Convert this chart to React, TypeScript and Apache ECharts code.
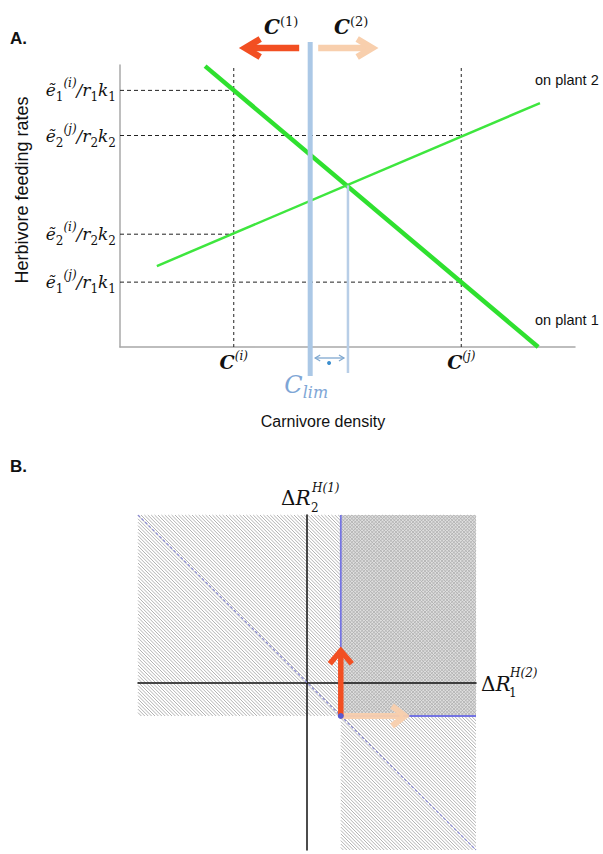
import React, { useEffect, useRef } from "react";
import * as echarts from "echarts";

// ---------- Panel A data (axis units) ----------
const xMinA = 0;
const xMaxA = 100;
const yMinA = 0;
const yMaxA = 100;
const plant1 = [[18.7, 99.6], [91.9, 0]];
const plant2 = [[8.1, 28.7], [92.3, 86.5]];
const cStarValues = [25, 75];
const cStarNames = ["i", "j"];
const rateLevels = [91, 75, 40, 23];
const rateLevelAt = [25, 75, 25, 75];
const rateSub = ["1", "2", "2", "1"];
const rateSup = ["i", "j", "i", "j"];
const cLim = 41.8;
const cCross = [50.1, 57.3];

// ---------- Panel B data (axis units) ----------
const xMinB = -5;
const xMaxB = 5;
const yMinB = -5;
const yMaxB = 5;
const threshold = [1, -1];
const regionX0 = [-5, 1, 1];
const regionX1 = [1, 5, 5];
const regionY0 = [-1, -1, -5];
const regionY1 = [5, 5, -1];
const regionCross = [0, 1, 0];
const boundary = [[1, 5], [1, -1], [5, -1]];
const diagonal = [[-5, 5], [5, -5]];
const redTip = [1, 0.95];
const peachTip = [2.9, -1];

const SERIF = "'DejaVu Serif', serif";
const SANS = "'Liberation Sans', Arial, sans-serif";
const RED = "#f24f22";
const PEACH = "#f8cfad";

function hatchPath(x0: number, y0: number, x1: number, y1: number, s: number, dir: number) {
  let d = "";
  if (dir === 1) {
    for (let k = Math.ceil((y0 - x1) / s) * s; k <= y1 - x0; k += s) {
      const xa = Math.max(x0, y0 - k);
      const xb = Math.min(x1, y1 - k);
      if (xb > xa) d += `M${xa.toFixed(2)} ${(xa + k).toFixed(2)}L${xb.toFixed(2)} ${(xb + k).toFixed(2)}`;
    }
  } else {
    for (let k = Math.ceil((y0 + x0) / s) * s; k <= y1 + x1; k += s) {
      const xa = Math.max(x0, k - y1);
      const xb = Math.min(x1, k - y0);
      if (xb > xa) d += `M${xa.toFixed(2)} ${(k - xa).toFixed(2)}L${xb.toFixed(2)} ${(k - xb).toFixed(2)}`;
    }
  }
  return d;
}

function arrowEls(from: number[], to: number[], color: string, width: number, headLen: number, headHalf: number, opacity = 1) {
  const dx = to[0] - from[0];
  const dy = to[1] - from[1];
  const len = Math.sqrt(dx * dx + dy * dy);
  const ux = dx / len;
  const uy = dy / len;
  const px = -uy;
  const py = ux;
  const bx = to[0] - ux * headLen;
  const by = to[1] - uy * headLen;
  return [
    {
      type: "line",
      shape: { x1: from[0], y1: from[1], x2: to[0] - ux * 2, y2: to[1] - uy * 2 },
      style: { stroke: color, lineWidth: width, opacity },
    },
    {
      type: "polyline",
      shape: { points: [[bx + px * headHalf, by + py * headHalf], [to[0], to[1]], [bx - px * headHalf, by - py * headHalf]] },
      style: { stroke: color, lineWidth: width, fill: "none", lineJoin: "miter", opacity },
    },
  ];
}

const yLabelRich = {
  e: { fontFamily: SERIF, fontStyle: "italic", fontSize: 17, lineHeight: 26, color: "#111" },
  sb: { fontFamily: SERIF, fontSize: 12, lineHeight: 16, verticalAlign: "bottom", color: "#111" },
  sp: { fontFamily: SERIF, fontStyle: "italic", fontSize: 12, lineHeight: 16, verticalAlign: "top", color: "#111" },
};

const xLabelRich = {
  c: { fontFamily: SERIF, fontStyle: "italic", fontWeight: "bold", fontSize: 19, lineHeight: 24, color: "#111" },
  sp: { fontFamily: SERIF, fontStyle: "italic", fontSize: 12, lineHeight: 15, verticalAlign: "top", color: "#111" },
};

function buildOption() {
  return {
    animation: false,
    backgroundColor: "#fff",
    grid: [
      { left: 120, top: 65, width: 455, height: 282 },
      { left: 138, top: 515, width: 338, height: 335 },
    ],
    xAxis: [
      {
        gridIndex: 0, type: "value", min: xMinA, max: xMaxA,
        axisLine: { lineStyle: { color: "#a8a8a8", width: 1.5 } },
        axisTick: { show: false }, splitLine: { show: false },
        axisLabel: {
          customValues: cStarValues, margin: 3,
          formatter: (v: number) => `{c|C}{sp|(${cStarNames[cStarValues.indexOf(v)]})}`,
          rich: xLabelRich,
        },
      },
      {
        gridIndex: 1, type: "value", min: xMinB, max: xMaxB, z: 3,
        axisLine: { onZero: true, lineStyle: { color: "#111", width: 1.5 } },
        axisTick: { show: false }, splitLine: { show: false }, axisLabel: { show: false },
      },
    ],
    yAxis: [
      {
        gridIndex: 0, type: "value", min: yMinA, max: yMaxA,
        axisLine: { lineStyle: { color: "#a8a8a8", width: 1.5 } },
        axisTick: { show: false }, splitLine: { show: false },
        axisLabel: {
          customValues: rateLevels, margin: 4,
          formatter: (v: number) => {
            const i = rateLevels.indexOf(v);
            const s = rateSub[i];
            return `{e|ẽ}{sb|${s}}{sp|(${rateSup[i]})}{e|/r}{sb|${s}}{e|k}{sb|${s}}`;
          },
          rich: yLabelRich,
        },
      },
      {
        gridIndex: 1, type: "value", min: yMinB, max: yMaxB, z: 3,
        axisLine: { onZero: true, lineStyle: { color: "#111", width: 1.5 } },
        axisTick: { show: false }, splitLine: { show: false }, axisLabel: { show: false },
      },
    ],
    series: [
      // Panel A: horizontal dashed guides
      {
        type: "custom", xAxisIndex: 0, yAxisIndex: 0, z: 1, silent: true,
        data: rateLevels.map((y, i) => [rateLevelAt[i], y]),
        renderItem: (_p: any, api: any) => {
          const end = api.coord([api.value(0), api.value(1)]);
          const start = api.coord([xMinA, api.value(1)]);
          return {
            type: "line",
            shape: { x1: start[0], y1: start[1], x2: end[0], y2: end[1] },
            style: { stroke: "#222", lineWidth: 1, lineDash: [4, 3] },
          };
        },
      },
      // Panel A: vertical dashed guides
      {
        type: "custom", xAxisIndex: 0, yAxisIndex: 0, z: 1, silent: true,
        data: cStarValues.map((x) => [x, yMinA]),
        renderItem: (_p: any, api: any) => {
          const a = api.coord([api.value(0), yMinA]);
          const b = api.coord([api.value(0), yMaxA]);
          return {
            type: "line",
            shape: { x1: a[0], y1: a[1], x2: b[0], y2: b[1] },
            style: { stroke: "#222", lineWidth: 1, lineDash: [3, 3] },
          };
        },
      },
      {
        name: "on plant 1", type: "line", xAxisIndex: 0, yAxisIndex: 0, z: 3,
        data: plant1, showSymbol: false, silent: true,
        lineStyle: { color: "#2fe02f", width: 4.5 },
      },
      {
        name: "on plant 2", type: "line", xAxisIndex: 0, yAxisIndex: 0, z: 3,
        data: plant2, showSymbol: false, silent: true,
        lineStyle: { color: "#3ee63e", width: 2.5 },
      },
      // Panel A: C_lim marks and direction arrows
      {
        type: "custom", xAxisIndex: 0, yAxisIndex: 0, z: 4, silent: true, clip: false,
        data: [[cLim, cCross[0], cCross[1]]],
        renderItem: (_p: any, api: any) => {
          const top = api.coord([api.value(0), yMaxA]);
          const bot = api.coord([api.value(0), yMinA]);
          const cr = api.coord([api.value(1), api.value(2)]);
          const xL = top[0];
          const yT = top[1];
          const yB = bot[1];
          const xC = cr[0];
          const ya = yB + 11;
          const children: any[] = [
            { type: "line", shape: { x1: xL, y1: yT - 23, x2: xL, y2: yB + 29 }, style: { stroke: "#abc8e6", lineWidth: 5 } },
            { type: "line", shape: { x1: xC, y1: cr[1], x2: xC, y2: yB + 26 }, style: { stroke: "#b8cee7", lineWidth: 2.5 } },
            { type: "line", shape: { x1: xL + 5, y1: ya, x2: xC - 4, y2: ya }, style: { stroke: "#7fa8d0", lineWidth: 1.3 } },
            { type: "polyline", shape: { points: [[xL + 10, ya - 3], [xL + 5, ya], [xL + 10, ya + 3]] }, style: { stroke: "#7fa8d0", lineWidth: 1.3, fill: "none" } },
            { type: "polyline", shape: { points: [[xC - 9, ya - 3], [xC - 4, ya], [xC - 9, ya + 3]] }, style: { stroke: "#7fa8d0", lineWidth: 1.3, fill: "none" } },
            { type: "circle", shape: { cx: (xL + xC) / 2, cy: ya + 5, r: 2 }, style: { fill: "#3c8fcf" } },
            {
              type: "text", x: xL - 4, y: yB + 38,
              style: {
                text: "{c|C}{s|lim}", align: "center", verticalAlign: "middle",
                rich: {
                  c: { fontFamily: SERIF, fontStyle: "italic", fontSize: 24, lineHeight: 30, fill: "#7ea6d6" },
                  s: { fontFamily: SERIF, fontStyle: "italic", fontSize: 16, lineHeight: 20, verticalAlign: "bottom", fill: "#7ea6d6" },
                },
              },
            },
            {
              type: "text", x: xL - 29, y: yT - 38,
              style: {
                text: "{c|C}{sp|(1)}", align: "center", verticalAlign: "middle",
                rich: {
                  c: { fontFamily: SERIF, fontStyle: "italic", fontWeight: "bold", fontSize: 20, lineHeight: 24, fill: "#111" },
                  sp: { fontFamily: SERIF, fontSize: 13, lineHeight: 15, verticalAlign: "top", fill: "#111" },
                },
              },
            },
            {
              type: "text", x: xL + 41, y: yT - 38,
              style: {
                text: "{c|C}{sp|(2)}", align: "center", verticalAlign: "middle",
                rich: {
                  c: { fontFamily: SERIF, fontStyle: "italic", fontWeight: "bold", fontSize: 20, lineHeight: 24, fill: "#111" },
                  sp: { fontFamily: SERIF, fontSize: 13, lineHeight: 15, verticalAlign: "top", fill: "#111" },
                },
              },
            },
            ...arrowEls([xL - 11, yT - 17], [xL - 65, yT - 17], RED, 6.5, 15, 9),
            ...arrowEls([xL + 8, yT - 17], [xL + 62, yT - 17], PEACH, 6.5, 15, 9),
          ];
          return { type: "group", children };
        },
      },
      // Panel B: hatched regions
      {
        type: "custom", xAxisIndex: 1, yAxisIndex: 1, z: 1, silent: true,
        data: regionX0.map((x0, i) => [x0, regionY0[i], regionX1[i], regionY1[i], regionCross[i]]),
        renderItem: (_p: any, api: any) => {
          const tl = api.coord([api.value(0), api.value(3)]);
          const br = api.coord([api.value(2), api.value(1)]);
          const cross = api.value(4) === 1;
          const s = 3.4;
          const children: any[] = [];
          if (cross) {
            children.push({ type: "rect", shape: { x: tl[0], y: tl[1], width: br[0] - tl[0], height: br[1] - tl[1] }, style: { fill: "#dedede" } });
          }
          children.push({
            type: "path",
            shape: { pathData: hatchPath(tl[0], tl[1], br[0], br[1], s, 1) },
            style: { fill: "none", stroke: cross ? "#b2b2b2" : "#a9a9a9", lineWidth: 0.9 },
          });
          if (cross) {
            children.push({
              type: "path",
              shape: { pathData: hatchPath(tl[0], tl[1], br[0], br[1], s, -1) },
              style: { fill: "none", stroke: "#b2b2b2", lineWidth: 0.9 },
            });
          }
          return { type: "group", children };
        },
      },
      {
        type: "line", xAxisIndex: 1, yAxisIndex: 1, z: 4, silent: true,
        data: diagonal, showSymbol: false,
        lineStyle: { color: "#8a8ad2", width: 1.2, type: [3, 2] },
      },
      {
        type: "line", xAxisIndex: 1, yAxisIndex: 1, z: 4, silent: true,
        data: boundary, showSymbol: false,
        lineStyle: { color: "#7474e2", width: 1.8 },
      },
      {
        type: "custom", xAxisIndex: 1, yAxisIndex: 1, z: 5, silent: true, clip: false,
        data: [[threshold[0], threshold[1]]],
        renderItem: (_p: any, api: any) => {
          const o = api.coord([api.value(0), api.value(1)]);
          const r = api.coord(redTip);
          const pch = api.coord(peachTip);
          return {
            type: "group",
            children: [
              ...arrowEls(o, pch, PEACH, 6, 13, 10, 0.95),
              ...arrowEls(o, r, RED, 5.5, 13, 11),
              { type: "circle", shape: { cx: o[0], cy: o[1], r: 3 }, style: { fill: "#5a5ad0" } },
            ],
          };
        },
      },
    ],
    graphic: [
      { type: "text", x: 10, y: 38, style: { text: "A.", fontFamily: SANS, fontWeight: "bold", fontSize: 17, fill: "#111", verticalAlign: "middle" } },
      { type: "text", x: 10, y: 466, style: { text: "B.", fontFamily: SANS, fontWeight: "bold", fontSize: 17, fill: "#111", verticalAlign: "middle" } },
      {
        type: "text", x: 22, y: 190, rotation: Math.PI / 2,
        style: { text: "Herbivore feeding rates", fontFamily: SANS, fontSize: 18, fill: "#111", align: "center", verticalAlign: "middle" },
      },
      { type: "text", x: 323, y: 421, style: { text: "Carnivore density", fontFamily: SANS, fontSize: 16, fill: "#111", align: "center", verticalAlign: "middle" } },
      { type: "text", x: 535, y: 80, style: { text: "on plant 2", fontFamily: SANS, fontSize: 14.5, fill: "#111", verticalAlign: "middle" } },
      { type: "text", x: 535, y: 320, style: { text: "on plant 1", fontFamily: SANS, fontSize: 14.5, fill: "#111", verticalAlign: "middle" } },
      {
        type: "text", x: 281, y: 498,
        style: {
          text: "{d|Δ}{r|R}", verticalAlign: "middle",
          rich: {
            d: { fontFamily: SERIF, fontSize: 20, fill: "#111" },
            r: { fontFamily: SERIF, fontStyle: "italic", fontSize: 20, fill: "#111" },
          },
        },
      },
      { type: "text", x: 312, y: 488, style: { text: "H(1)", fontFamily: SERIF, fontStyle: "italic", fontSize: 12, fill: "#111", verticalAlign: "middle" } },
      { type: "text", x: 311, y: 508, style: { text: "2", fontFamily: SERIF, fontSize: 12, fill: "#111", verticalAlign: "middle" } },
      {
        type: "text", x: 481, y: 684,
        style: {
          text: "{d|Δ}{r|R}", verticalAlign: "middle",
          rich: {
            d: { fontFamily: SERIF, fontSize: 20, fill: "#111" },
            r: { fontFamily: SERIF, fontStyle: "italic", fontSize: 20, fill: "#111" },
          },
        },
      },
      { type: "text", x: 510, y: 673, style: { text: "H(2)", fontFamily: SERIF, fontStyle: "italic", fontSize: 12, fill: "#111", verticalAlign: "middle" } },
      { type: "text", x: 509, y: 693, style: { text: "1", fontFamily: SERIF, fontSize: 12, fill: "#111", verticalAlign: "middle" } },
    ],
  };
}

export default function App() {
  const ref = useRef<HTMLDivElement>(null);
  useEffect(() => {
    const chart = echarts.init(ref.current as HTMLDivElement, null, { renderer: "svg" });
    chart.setOption(buildOption() as any);
    return () => chart.dispose();
  }, []);
  return <div ref={ref} style={{ position: "absolute", left: 0, top: 0, width: 603, height: 854 }} />;
}
